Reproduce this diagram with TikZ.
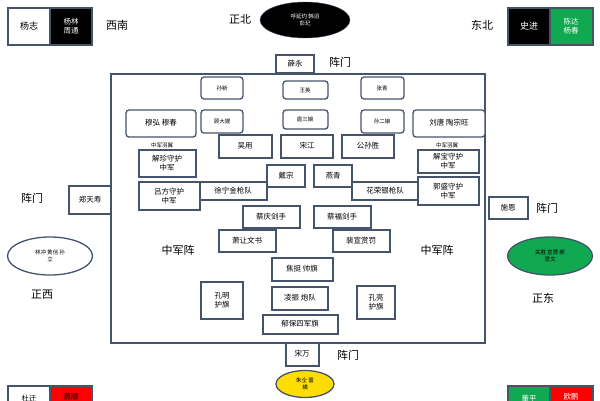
\documentclass[tikz,border=0pt]{standalone}
\usepackage{fontspec}
\setmainfont{Noto Sans CJK SC}
\usetikzlibrary{shapes.geometric}
\definecolor{bd}{HTML}{45546A}
\definecolor{gr}{HTML}{10A850}
\begin{document}
\begin{tikzpicture}[x=1pt,y=-1pt,
 bx/.style={draw=bd,line width=1.3pt,fill=white},
 rb/.style={bx,rounded corners=3pt},
 t/.style={font=\fontsize{7.5}{8.5}\selectfont,align=center,inner sep=0pt},
 ts/.style={font=\fontsize{5.5}{6.5}\selectfont,align=center,inner sep=0pt},
 big/.style={font=\fontsize{11}{12}\selectfont,inner sep=0pt}]
\useasboundingbox (0,0) rectangle (600,400);
\clip (0,0) rectangle (600,400);
\draw[bx] (8,8) rectangle (50,45); \node[t,font=\fontsize{9}{10}\selectfont] (yz) at (29,26) {杨志};
\draw[bd,line width=1.3pt,fill=black] (50,8) rectangle (92,45); \node[t,text=white] (yl) at (71,26) {杨林\\周通};
\node[big] (xn) at (117,25) {西南};
\node[big] (zb) at (240,19) {正北};
\node[ellipse,fill=black,draw=bd,minimum width=90,minimum height=36,text=white,ts] (hy) at (305,20) {呼延灼 韩滔\\彭玘};
\node[big] (db) at (482,25) {东北};
\draw[bd,line width=1.3pt,fill=black] (508,8) rectangle (550,45); \node[t,text=white,font=\fontsize{9}{10}\selectfont] (sj) at (529,26) {史进};
\draw[bd,line width=1.3pt,fill=gr] (550,8) rectangle (593,45); \node[t,text=white] (cd) at (571,26) {陈达\\杨春};
\draw[bx] (8,386) rectangle (50,412); \node[t] (bl1) at (29,399) {杜迁};
\draw[bd,line width=1.3pt,fill=red] (50,386) rectangle (92,412); \node[t] (bl2) at (71,397) {燕顺};
\draw[bd,line width=1.3pt,fill=gr] (508,386) rectangle (550,412); \node[t,text=white] (br1) at (529,399) {董平};
\draw[bd,line width=1.3pt,fill=red] (550,386) rectangle (593,412); \node[t,text=white] (br2) at (571,397) {欧鹏};
\draw[bd,line width=1.3pt] (111,74) rectangle (485,343);
\draw[bx] (276,55) rectangle (314,73); \node[t] (xy) at (295,64) {薛永};
\node[big] (zm1) at (340,62) {阵门};
\draw[rb] (201,77) rectangle (243,99); \node[ts] (sx) at (222,88) {孙新};
\draw[rb] (283,81) rectangle (328,99); \node[ts] (wy) at (305,90) {王英};
\draw[rb] (361,77) rectangle (404,99); \node[ts] (zq) at (382,88) {张青};
\draw[rb] (126,110) rectangle (196,137); \node[t] (mh) at (161,123) {穆弘 穆春};
\draw[rb] (201,110) rectangle (243,133); \node[ts] (gd) at (222,121) {顾大嫂};
\draw[rb] (283,110) rectangle (328,129); \node[ts] (hs) at (305,119) {扈三娘};
\draw[rb] (361,110) rectangle (404,133); \node[ts] (se) at (382,121) {孙二娘};
\draw[rb] (413,110) rectangle (485,137); \node[t] (lt) at (449,123) {刘唐 陶宗旺};
\draw[bx] (219,135) rectangle (272,158); \node[t] (wyo) at (245,146) {吴用};
\draw[bx] (281,135) rectangle (333,158); \node[t] (sjg) at (307,146) {宋江};
\draw[bx] (342,135) rectangle (394,158); \node[t] (gs) at (368,146) {公孙胜};
\node[ts] (yy1) at (162,145) {中军羽翼};
\node[ts] (yy2) at (447,145) {中军羽翼};
\draw[bx] (139,150) rectangle (196,177); \node[t] (xz) at (167,163) {解珍守护\\中军};
\draw[bx] (418,150) rectangle (479,173); \node[t] (xb) at (448,161) {解宝守护\\中军};
\draw[bx] (267,165) rectangle (305,187); \node[t] (dz) at (286,176) {戴宗};
\draw[bx] (314,165) rectangle (352,187); \node[t] (yq) at (333,176) {燕青};
\draw[bx] (139,182) rectangle (200,210); \node[t] (lf) at (169,196) {吕方守护\\中军};
\draw[bx] (200,182) rectangle (267,200); \node[t] (xn2) at (233,191) {徐宁金枪队};
\draw[bx] (352,182) rectangle (418,200); \node[t] (hr) at (385,191) {花荣银枪队};
\draw[bx] (418,177) rectangle (479,205); \node[t] (gsh) at (448,191) {郭盛守护\\中军};
\draw[bx] (69,186) rectangle (111,214); \node[t] (zt) at (90,200) {郑天寿};
\node[big] (zm2) at (32,198) {阵门};
\draw[bx] (489,197) rectangle (528,219); \node[t] (se2) at (508,208) {施恩};
\node[big] (zm3) at (547,208) {阵门};
\draw[bx] (243,206) rectangle (300,228); \node[t] (cq) at (271,217) {蔡庆剑手};
\draw[bx] (314,206) rectangle (371,228); \node[t] (cf) at (342,217) {蔡福剑手};
\draw[bx] (219,230) rectangle (276,252); \node[t] (xr) at (247,241) {萧让文书};
\draw[bx] (333,230) rectangle (390,252); \node[t] (px) at (361,241) {裴宣赏罚};
\node[big] (zj1) at (178,250) {中军阵};
\node[big] (zj2) at (437,250) {中军阵};
\draw[bx] (272,258) rectangle (333,281); \node[t] (jt) at (302,269) {焦挺 帅旗};
\draw[bx] (201,282) rectangle (243,319); \node[t] (km) at (222,300) {孔明\\护旗};
\draw[bx] (357,286) rectangle (395,319); \node[t] (kl) at (376,302) {孔亮\\护旗};
\draw[bx] (272,287) rectangle (328,310); \node[t] (lz) at (300,298) {凌振 炮队};
\draw[bx] (263,315) rectangle (338,334); \node[t] (yb) at (300,324) {郁保四军旗};
\draw[bx] (286,343) rectangle (319,366); \node[t] (sw) at (302,354) {宋万};
\node[big] (zm4) at (348,355) {阵门};
\node[ellipse,fill=yellow!80!orange,draw=bd,line width=1.3pt,minimum width=58,minimum height=27,ts] (zt2) at (305,384) {朱仝 雷\\横};
\node[ellipse,fill=white,draw=bd,line width=1.3pt,minimum width=85,minimum height=38,ts] (lc) at (50,256) {林冲 黄信 孙\\立};
\node[big] (zx) at (42,295) {正西};
\node[ellipse,fill=gr,draw=bd,line width=1.3pt,minimum width=85,minimum height=38,ts] (gsg) at (550,256) {关胜 宣赞 郝\\思文};
\node[big] (zd) at (543,298) {正东};
\end{tikzpicture}
\end{document}
